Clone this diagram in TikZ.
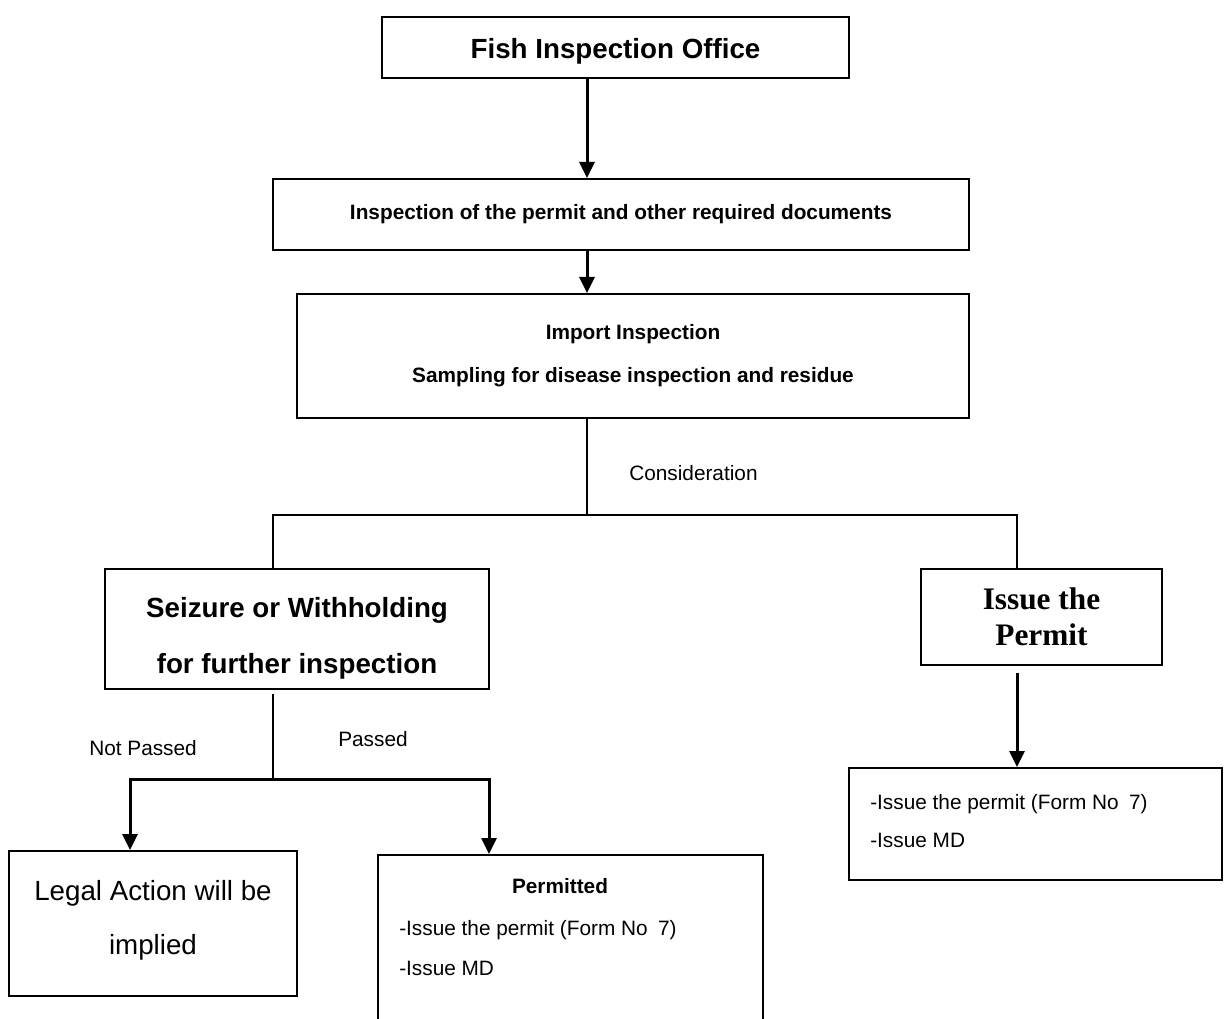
\documentclass[tikz,border=0pt]{standalone}
\usepackage{fontspec}
\setmainfont{Liberation Sans}
\newfontfamily\serifbold{Liberation Serif}
\usetikzlibrary{arrows.meta}
\tikzset{
  box/.style={draw, line width=1.5pt, rectangle, inner sep=0pt, align=center},
  arr/.style={line width=2.25pt, -{Triangle[width=11.25pt,length=12pt]}},
  conn/.style={line width=1.6pt},
  lbl/.style={inner sep=0pt, font=\fontsize{15.6}{18}\selectfont},
  lblb/.style={inner sep=0pt, font=\fontsize{15.6}{18}\selectfont\bfseries},
}
\begin{document}
\begin{tikzpicture}[x=0.75pt, y=-0.75pt]
\fill[white] (0,0) rectangle (1224,1019);
\useasboundingbox (0,0) rectangle (1224,1019);
\clip (0,0) rectangle (1224,1019);

% boxes
\node[box, minimum width=350.25pt, minimum height=45.75pt,
      font=\fontsize{20.8}{24}\selectfont\bfseries] (b1) at (615.5,47.5) {\rule{0pt}{20.8pt}Fish Inspection Office};
\node[box, minimum width=522pt, minimum height=53.25pt,
      font=\fontsize{15.6}{18}\selectfont\bfseries] (b2) at (621,214.5) {Inspection of the permit and other required documents};
\node[box, minimum width=504pt, minimum height=93pt,
      font=\fontsize{15.6}{32.25}\selectfont\bfseries] (b3) at (633,356) {Import Inspection\\Sampling for disease inspection and residue};
\node[box, minimum width=288pt, minimum height=90pt,
      font=\fontsize{20.8}{42}\selectfont\bfseries] (b4) at (297,629) {\rule{0pt}{28.7pt}Seizure or Withholding\\for further inspection};
\node[box, minimum width=180.75pt, minimum height=72pt,
      font=\serifbold\fontsize{23.5}{27}\selectfont\bfseries] (b5) at (1041.5,617) {Issue the\\Permit};
\node[box, minimum width=279.75pt, minimum height=84pt] (b6) at (1035.5,824) {};
\node[box, minimum width=216pt, minimum height=108.75pt,
      font=\fontsize{20.8}{40.5}\selectfont] (b7) at (153,923.5) {Legal Action will be\\implied\rule[-9pt]{0pt}{9pt}};
\node[box, minimum width=288.75pt, minimum height=153.75pt] (b8) at (570.5,957.5) {};

% texts inside the open boxes
\node[lbl, anchor=base west] (t6a) at (870,809) {-Issue the permit (Form No\enspace 7)};
\node[lbl, anchor=base west] (t6b) at (870,847) {-Issue MD};
\node[lblb, anchor=base] (t8a) at (560,893) {Permitted};
\node[lbl, anchor=base west] (t8b) at (399,935) {-Issue the permit (Form No\enspace 7)};
\node[lbl, anchor=base west] (t8c) at (399,975) {-Issue MD};

% connector labels
\node[lbl, anchor=base west] (consid) at (629,481) {Consideration};
\node[lbl, anchor=base west] (np) at (89,755) {Not Passed};
\node[lbl, anchor=base west] (ps) at (338,746) {Passed};

% helper coordinates
\coordinate (cA) at (587,0);
\coordinate (cL) at (273,0);
\coordinate (cR) at (1017,0);
\coordinate (cLL) at (130,0);
\coordinate (cLR) at (489,0);
\coordinate (sp1) at (587,515);
\coordinate (sp2) at (273,779);

% connectors
\draw[arr] (b1.south -| cA) -- (b2.north -| cA);
\draw[arr] (b2.south -| cA) -- (b3.north -| cA);
\draw[conn] (b3.south -| cA) -- (sp1);
\draw[conn] (sp1) -| (b4.north -| cL);
\draw[conn] (sp1) -| (b5.north -| cR);
\draw[arr, shorten <=5pt] (b5.south -| cR) -- (b6.north -| cR);
\draw[conn, shorten <=3pt] (b4.south -| cL) -- (sp2);
\draw[arr] (sp2) -| (b7.north -| cLL);
\draw[arr] (sp2) -| (b8.north -| cLR);
\end{tikzpicture}
\end{document}
